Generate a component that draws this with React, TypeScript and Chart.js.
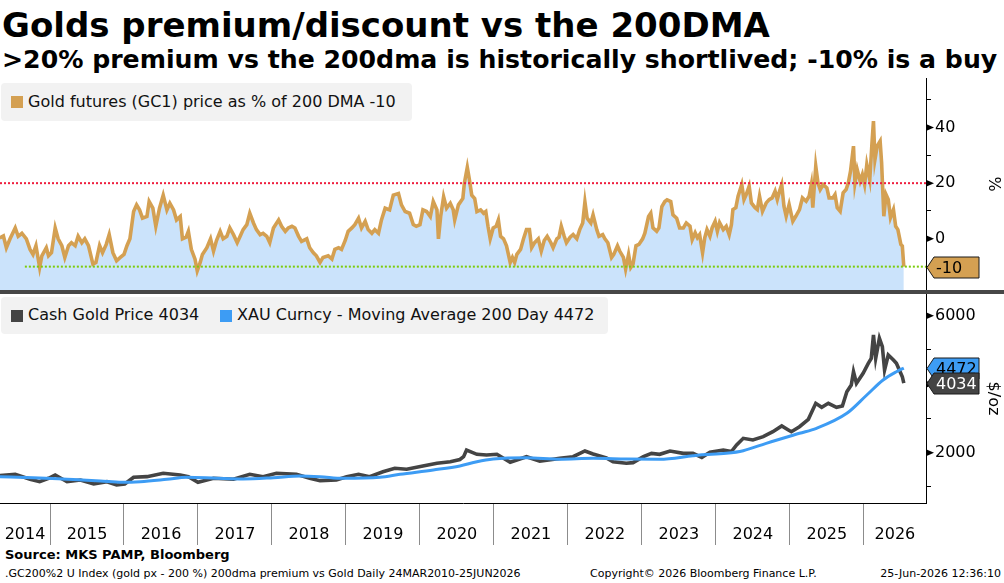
import { useEffect, useRef } from 'react';
import { Chart, registerables } from 'chart.js';

Chart.register(...registerables);

const FONT = '"DejaVu Sans", Verdana, sans-serif';
const GOLD = '#d4a052';
const FILL = '#cbe3fb';
const RED = '#ef1f3f';
const GREEN = '#7dcc0a';
const DARK = '#444444';
const BLUE = '#3d9cf4';

// visible date range, decimal years
const X_MIN = 2014.324;
const X_MAX = 2026.84;

const yearLabels = [2014, 2015, 2016, 2017, 2018, 2019, 2020, 2021, 2022, 2023, 2024, 2025, 2026];
const yearTicks = [2015, 2016, 2017, 2018, 2019, 2020, 2021, 2022, 2023, 2024, 2025, 2026];

// right-axis ticks; labels only on the major ones
const pctTicks = [-10, 0, 10, 20, 30, 40, 50];
const pctMajor = [0, 20, 40];
const priceTicks = [1000, 2000, 3000, 4000, 5000, 6000];
const priceMajor = [2000, 4000, 6000];

// GC1 price as % premium over its 200 DMA  [year, %]
const premiumPoints: [number, number][] = [
  [2014.32, 0.3], [2014.37, 1], [2014.41, -3.2], [2014.46, 0], [2014.53, 3.9], [2014.57, 0.9], [2014.62, 2],
  [2014.68, 0], [2014.73, -3.8], [2014.77, -5.6], [2014.81, -2.5], [2014.86, -10.3], [2014.89, -6.1], [2014.95, -3.2],
  [2014.98, -6.1], [2015.02, -5], [2015.07, 3.9], [2015.11, 0], [2015.16, -2.5], [2015.2, -6.7], [2015.25, -2.5],
  [2015.29, -1.4], [2015.34, -2.5], [2015.38, 0.9], [2015.43, -1.4], [2015.47, 0], [2015.52, -2.5], [2015.58, -9.1],
  [2015.62, -8.5], [2015.67, -2.4], [2015.71, -5], [2015.76, -2], [2015.8, 1.5], [2015.85, -5], [2015.9, -7.9],
  [2015.95, -6.7], [2016.0, -5.6], [2016.04, -2.5], [2016.08, 0], [2016.13, 9.8], [2016.17, 12.2], [2016.21, 10.4],
  [2016.25, 7.4], [2016.31, 8], [2016.34, 13.4], [2016.39, 11], [2016.43, 4.5], [2016.48, 11], [2016.53, 15.7],
  [2016.58, 10.4], [2016.62, 12.8], [2016.67, 10.4], [2016.71, 6.8], [2016.76, 8], [2016.79, 0], [2016.84, 0.6],
  [2016.87, 2.7], [2016.91, -3.8], [2016.96, -7.3], [2016.99, -11.5], [2017.03, -8.5], [2017.06, -5.6], [2017.12, -3.2],
  [2017.17, 0], [2017.21, -4.4], [2017.25, -0.6], [2017.3, 2.7], [2017.34, 0], [2017.39, 0.9],
  [2017.43, 3.9], [2017.48, 1.5], [2017.53, -1.4], [2017.57, 0.9], [2017.61, 3.3], [2017.66, 5.1], [2017.7, 9.2],
  [2017.75, 5.7], [2017.79, 3.3], [2017.84, 1.5], [2017.88, 2], [2017.93, 0.9], [2017.97, -1.4], [2018.02, 3.9],
  [2018.09, 6.8], [2018.13, 4.5], [2018.18, 2.7], [2018.22, 3.9], [2018.27, 4.5], [2018.31, 3.9], [2018.36, 0.9],
  [2018.4, -0.9], [2018.47, 0], [2018.51, -3.2], [2018.56, -5], [2018.6, -6.1], [2018.65, -8.5], [2018.69, -6.7],
  [2018.76, -6.1], [2018.81, -7.3], [2018.85, -3.8], [2018.9, -3.2], [2018.94, -3.8], [2018.99, -0.6], [2019.03, 2.7],
  [2019.08, 3.9], [2019.12, 5.1], [2019.17, 7.4], [2019.21, 3.9], [2019.26, 6.3], [2019.3, 3.3], [2019.35, 2],
  [2019.39, 3.3], [2019.44, 2], [2019.48, 6.8], [2019.53, 11], [2019.59, 10.4], [2019.64, 15.7], [2019.71, 16.3],
  [2019.75, 12.2], [2019.8, 9.8], [2019.86, 9.2], [2019.91, 5.1], [2019.95, 4.5], [2020.0, 5.1], [2020.04, 10.4],
  [2020.09, 9.8], [2020.14, 8], [2020.18, 13.4], [2020.23, 10.4], [2020.25, 0], [2020.28, 8], [2020.32, 15.1],
  [2020.36, 11], [2020.41, 12.8], [2020.45, 10.4], [2020.47, 6.8], [2020.52, 12.2],
  [2020.58, 14.5], [2020.6, 19.9], [2020.64, 25.7], [2020.67, 21], [2020.7, 15.7], [2020.74, 14.5], [2020.77, 9.8],
  [2020.82, 10.4], [2020.86, 9.2], [2020.89, 9.8], [2020.92, 4.5], [2020.95, 0], [2020.99, 3.9], [2021.03, 4.5],
  [2021.06, 6.8], [2021.09, 0.9], [2021.13, 0], [2021.17, -2.5], [2021.22, -8.5], [2021.25, -6.7], [2021.28, -8.5],
  [2021.31, -5.6], [2021.36, -3.8], [2021.4, 0], [2021.44, 3.3], [2021.48, 3.3], [2021.51, -3.2], [2021.55, -1.4],
  [2021.6, 0], [2021.64, -4.4], [2021.68, -0.6], [2021.72, 0.9], [2021.77, -1.4], [2021.8, -3.2], [2021.85, 0],
  [2021.88, 0.6], [2021.91, 4.5], [2021.95, 0.9], [2021.98, -1.4], [2022.03, 0.6], [2022.07, 1.5], [2022.12, 0],
  [2022.16, 3.3], [2022.2, 5.7], [2022.23, 13.3], [2022.26, 7.4], [2022.31, 5.7], [2022.34, 8.6], [2022.39, 3.3],
  [2022.42, 0.9], [2022.47, 1.5], [2022.5, 0], [2022.54, -1.4], [2022.59, -6.7], [2022.62, -5.6], [2022.67, -2.5],
  [2022.7, -4.4], [2022.75, -6.7], [2022.78, -10.9], [2022.82, -5.6], [2022.85, -10.3], [2022.88, -9.1], [2022.92, -2.5],
  [2022.96, -2], [2023.01, 0], [2023.04, 2], [2023.09, 8], [2023.12, 9.2], [2023.15, 3.9], [2023.2, 2.7],
  [2023.23, 3.9], [2023.27, 11.6], [2023.31, 13.4], [2023.34, 14], [2023.39, 13.4], [2023.42, 8.6], [2023.47, 7.4],
  [2023.51, 3.9], [2023.56, 3.9], [2023.6, 5.7],
  [2023.65, 4.5], [2023.68, -0.3], [2023.72, 2.2], [2023.75, 0.4], [2023.78, 1.5], [2023.82, -5], [2023.85, 0.4],
  [2023.88, 3.3], [2023.92, 0.9], [2023.95, 4], [2023.99, 6.3], [2024.02, 2.7], [2024.05, 5.8], [2024.1, 3.3],
  [2024.14, 4.5], [2024.18, 1.5], [2024.21, 5.1], [2024.23, 10.5], [2024.27, 11.2], [2024.3, 15.3], [2024.35, 19.5],
  [2024.38, 14.1], [2024.41, 15.9], [2024.45, 18.9], [2024.48, 12.9], [2024.53, 11.2], [2024.56, 10.5], [2024.59, 15.3],
  [2024.63, 9.9], [2024.68, 12.9], [2024.72, 14.1], [2024.76, 14.7], [2024.8, 17.1], [2024.83, 14.1], [2024.86, 17.1],
  [2024.89, 19.5], [2024.92, 11.7], [2024.95, 8.1], [2024.99, 12.3], [2025.04, 6.3], [2025.08, 8.1], [2025.13, 10.5],
  [2025.17, 14.7], [2025.22, 13.5], [2025.26, 15.3], [2025.29, 19.5], [2025.31, 11.2], [2025.35, 26.1], [2025.38, 20.1],
  [2025.41, 17.7], [2025.45, 19.5], [2025.5, 18.3], [2025.53, 14.7], [2025.58, 14.7], [2025.61, 15.9], [2025.64, 11.2],
  [2025.68, 9.9], [2025.72, 16.5], [2025.76, 17.7], [2025.79, 20.1], [2025.82, 24.3], [2025.86, 33.3], [2025.88, 20.1],
  [2025.91, 24.9], [2025.95, 20.7], [2025.98, 23.1], [2026.01, 19.5], [2026.04, 26.7], [2026.08, 21.3], [2026.11, 34.5],
  [2026.13, 42.3], [2026.15, 28.5], [2026.18, 33.3], [2026.22, 35.1], [2026.24, 27.3], [2026.27, 8.1], [2026.3, 15.9],
  [2026.33, 14.1], [2026.36, 7.6], [2026.4, 10.5], [2026.43, 4.5], [2026.46, 3.3], [2026.5, -2], [2026.52, -2.6],
  [2026.54, -10],
];

// reference levels on the premium panel
const richLevel = 20;
const buyLevel = -10;
const buyLineStart = 2014.66;

// cash gold price, $/oz
const goldPoints: [number, number][] = [
  [2014.32, 1329], [2014.53, 1369], [2014.73, 1223], [2014.86, 1153], [2014.98, 1253], [2015.07, 1349], [2015.23, 1153],
  [2015.41, 1203], [2015.59, 1086], [2015.77, 1153], [2015.9, 1057], [2016.01, 1086], [2016.13, 1282], [2016.31, 1300],
  [2016.53, 1399], [2016.76, 1349], [2016.87, 1300], [2017.0, 1136], [2017.21, 1253], [2017.48, 1223], [2017.7, 1369],
  [2017.88, 1300], [2018.06, 1399], [2018.33, 1369], [2018.51, 1253], [2018.65, 1183], [2018.87, 1203], [2019.01, 1300],
  [2019.17, 1369], [2019.32, 1300], [2019.5, 1445], [2019.66, 1544], [2019.82, 1515], [2020.04, 1612], [2020.23, 1690],
  [2020.41, 1737], [2020.54, 1800], [2020.59, 1883], [2020.63, 2079], [2020.77, 1953], [2020.9, 1934], [2021.04, 1953],
  [2021.22, 1720], [2021.44, 1883], [2021.62, 1750], [2021.89, 1835], [2022.07, 1883], [2022.23, 2050], [2022.34, 1962],
  [2022.52, 1850], [2022.61, 1737], [2022.79, 1690], [2022.88, 1710], [2023.02, 1883], [2023.13, 1981], [2023.24, 1953],
  [2023.38, 2050], [2023.56, 1981], [2023.69, 1981], [2023.81, 1864], [2023.92, 2011], [2024.1, 2079], [2024.21, 2031],
  [2024.28, 2225], [2024.37, 2420], [2024.5, 2372], [2024.64, 2467], [2024.77, 2613], [2024.89, 2780], [2024.98, 2663],
  [2025.02, 2613], [2025.13, 2759], [2025.25, 2975], [2025.35, 3442], [2025.43, 3326], [2025.52, 3442], [2025.63, 3326],
  [2025.71, 3364], [2025.77, 3781], [2025.83, 3977], [2025.86, 4365], [2025.9, 4026], [2025.99, 4318], [2026.06, 4610],
  [2026.1, 4756], [2026.13, 5436], [2026.16, 4756], [2026.21, 5340], [2026.25, 5095], [2026.28, 4415], [2026.33, 4853],
  [2026.4, 4707], [2026.44, 4610], [2026.49, 4365], [2026.52, 4219], [2026.54, 4034],
];

// XAU 200-day moving average, $/oz
const maPoints: [number, number][] = [
  [2014.32, 1300], [2014.77, 1270], [2015.23, 1223], [2015.68, 1174], [2015.97, 1136], [2016.22, 1153], [2016.58, 1223],
  [2016.85, 1282], [2017.25, 1253], [2017.61, 1232], [2018.02, 1270], [2018.38, 1320], [2018.65, 1300], [2018.96, 1253],
  [2019.46, 1282], [2019.73, 1369], [2020.18, 1495], [2020.54, 1612], [2020.77, 1737], [2020.99, 1816], [2021.44, 1854],
  [2021.89, 1807], [2022.34, 1835], [2022.79, 1816], [2023.24, 1807], [2023.69, 1912], [2023.78, 1933], [2024.14, 1981],
  [2024.37, 2058], [2024.68, 2274], [2025.13, 2566], [2025.36, 2712], [2025.77, 3150], [2026.04, 3685], [2026.26, 4123],
  [2026.44, 4365], [2026.54, 4472],
];

const toXY = (pts: [number, number][]) => pts.map(([x, y]) => ({ x, y }));
const fixedTicks = (values: number[]) => (s: any) => {
  s.ticks = values.map((value) => ({ value }));
};

const RIGHT_AXIS_W = 78;

const rightAxisDecor = {
  id: 'rightAxisDecor',
  afterDraw(chart: any, _args: any, opts: any) {
    const { ctx, chartArea } = chart;
    const ys = chart.scales.y;
    const right = chartArea.right;
    ctx.save();
    ctx.fillStyle = '#000';
    for (const v of opts.major) {
      const py = ys.getPixelForValue(v);
      ctx.beginPath();
      ctx.moveTo(right, py - 3.5);
      ctx.lineTo(right + 8, py);
      ctx.lineTo(right, py + 3.5);
      ctx.closePath();
      ctx.fill();
    }
    ctx.save();
    ctx.translate(right + 67, (chartArea.top + chartArea.bottom) / 2);
    ctx.rotate(Math.PI / 2);
    ctx.font = `16px ${FONT}`;
    ctx.textAlign = 'center';
    ctx.textBaseline = 'middle';
    ctx.fillText(opts.title, 0, 0);
    ctx.restore();

    ctx.font = `16px ${FONT}`;
    ctx.textAlign = 'left';
    ctx.textBaseline = 'middle';
    for (const b of opts.badges) {
      const data = chart.data.datasets[b.dataset].data;
      const v = data[data.length - 1].y;
      const py = Math.round(ys.getPixelForValue(v)) + 0.5;
      const h = 10.5;
      ctx.beginPath();
      ctx.moveTo(right + 1, py);
      ctx.lineTo(right + 8, py - h);
      ctx.lineTo(right + 53, py - h);
      ctx.lineTo(right + 53, py + h);
      ctx.lineTo(right + 8, py + h);
      ctx.closePath();
      ctx.fillStyle = b.fill;
      ctx.fill();
      ctx.strokeStyle = '#1a1a1a';
      ctx.lineWidth = 1;
      ctx.stroke();
      ctx.fillStyle = b.text;
      ctx.fillText(String(Math.round(v)), right + 10, py + 1);
    }
    ctx.restore();
  },
};

const yearAxisLabels = {
  id: 'yearAxisLabels',
  afterDraw(chart: any) {
    const xs = chart.scales.x;
    const { ctx, chartArea } = chart;
    ctx.save();
    ctx.font = `16px ${FONT}`;
    ctx.fillStyle = '#000';
    ctx.textAlign = 'center';
    ctx.textBaseline = 'middle';
    for (const yr of yearLabels) {
      const a = Math.max(yr, xs.min);
      const b = Math.min(yr + 1, xs.max);
      if (b <= a) continue;
      ctx.fillText(String(yr), xs.getPixelForValue((a + b) / 2), chartArea.bottom + 32);
    }
    ctx.restore();
  },
};

const yAxis = (min: number, max: number, ticks: number[], major: number[]) => ({
  position: 'right' as const,
  min,
  max,
  afterBuildTicks: fixedTicks(ticks),
  afterFit: (s: any) => {
    s.width = RIGHT_AXIS_W;
    s.paddingTop = 0;
    s.paddingBottom = 0;
  },
  border: { color: '#000', width: 1 },
  grid: { drawOnChartArea: false, tickLength: 5, color: '#000' },
  ticks: {
    autoSkip: false,
    padding: 4,
    color: '#000',
    font: { family: FONT, size: 16 },
    callback: (v: any) => (major.includes(v) ? String(v) : ''),
  },
});

export default function App() {
  const topRef = useRef<HTMLCanvasElement | null>(null);
  const botRef = useRef<HTMLCanvasElement | null>(null);

  useEffect(() => {
    const top = new Chart(topRef.current as HTMLCanvasElement, {
      type: 'line',
      data: {
        datasets: [
          {
            data: toXY(premiumPoints),
            borderColor: GOLD,
            borderWidth: 3.6,
            pointRadius: 0,
            fill: 'start',
            backgroundColor: FILL,
            order: 2,
          },
          {
            data: toXY([[X_MIN, richLevel], [X_MAX, richLevel]]),
            borderColor: RED,
            borderWidth: 2,
            borderDash: [2, 2],
            pointRadius: 0,
            fill: false,
            order: 1,
          },
          {
            data: toXY([[buyLineStart, buyLevel], [X_MAX, buyLevel]]),
            borderColor: GREEN,
            borderWidth: 2,
            borderDash: [2, 2],
            pointRadius: 0,
            fill: false,
            order: 1,
          },
        ],
      },
      options: {
        animation: false,
        responsive: false,
        layout: { padding: 0 },
        plugins: {
          legend: { display: false },
          tooltip: { enabled: false },
          rightAxisDecor: { major: pctMajor, title: '%', badges: [{ dataset: 0, fill: GOLD, text: '#000' }] },
        } as any,
        scales: {
          x: { type: 'linear', min: X_MIN, max: X_MAX, display: false },
          y: yAxis(-18.4, 57.8, pctTicks, pctMajor) as any,
        },
      },
      plugins: [rightAxisDecor],
    });

    const bottom = new Chart(botRef.current as HTMLCanvasElement, {
      type: 'line',
      data: {
        datasets: [
          {
            data: toXY(goldPoints),
            borderColor: DARK,
            borderWidth: 3.6,
            pointRadius: 0,
            order: 2,
          },
          {
            data: toXY(maPoints),
            borderColor: BLUE,
            borderWidth: 3,
            pointRadius: 0,
            cubicInterpolationMode: 'monotone',
            order: 1,
          },
        ],
      },
      options: {
        animation: false,
        responsive: false,
        layout: { padding: 0 },
        plugins: {
          legend: { display: false },
          tooltip: { enabled: false },
          rightAxisDecor: {
            major: priceMajor,
            title: '$/oz',
            badges: [
              { dataset: 1, fill: BLUE, text: '#000' },
              { dataset: 0, fill: DARK, text: '#fff' },
            ],
          },
        } as any,
        scales: {
          x: {
            type: 'linear',
            min: X_MIN,
            max: X_MAX,
            afterBuildTicks: fixedTicks(yearTicks),
            afterFit: (s: any) => {
              s.height = 43;
            },
            border: { color: '#000', width: 1 },
            grid: { drawOnChartArea: false, tickLength: 42, color: '#8c8c8c' },
            ticks: { display: false, autoSkip: false },
          } as any,
          y: yAxis(531, 6634, priceTicks, priceMajor) as any,
        },
      },
      plugins: [rightAxisDecor, yearAxisLabels],
    });

    return () => {
      top.destroy();
      bottom.destroy();
    };
  }, []);

  const legendBox: React.CSSProperties = {
    position: 'absolute',
    left: 1,
    background: '#f2f2f2',
    borderRadius: 4,
    fontSize: 16,
    color: '#111',
    zIndex: 2,
  };
  const sq = (c: string): React.CSSProperties => ({
    position: 'absolute',
    width: 12,
    height: 12,
    background: c,
    top: '50%',
    marginTop: -6,
  });

  return (
    <div
      style={{
        position: 'fixed',
        left: 0,
        top: 0,
        width: 1004,
        height: 583,
        background: '#fff',
        overflow: 'hidden',
        fontFamily: FONT,
        color: '#000',
      }}
    >
      <div style={{ position: 'absolute', left: 2, top: 5, fontSize: 34, fontWeight: 'bold', lineHeight: '40px', whiteSpace: 'nowrap' }}>
        Golds premium/discount vs the 200DMA
      </div>
      <div style={{ position: 'absolute', left: 2, top: 45, fontSize: 25.2, fontWeight: 'bold', lineHeight: '30px', whiteSpace: 'nowrap' }}>
        &gt;20% premium vs the 200dma is historically shortlived; -10% is a buy
      </div>

      <canvas ref={topRef} width={1004} height={212} style={{ position: 'absolute', left: 0, top: 78 }} />
      <div style={{ position: 'absolute', left: 0, top: 290, width: 1004, height: 4, background: '#474747' }} />
      <canvas ref={botRef} width={1004} height={252} style={{ position: 'absolute', left: 0, top: 294 }} />

      <div style={{ ...legendBox, top: 83, width: 411, height: 38 }}>
        <span style={{ ...sq(GOLD), left: 10 }} />
        <span style={{ position: 'absolute', left: 27, top: 9, whiteSpace: 'nowrap' }}>Gold futures (GC1) price as % of 200 DMA -10</span>
      </div>
      <div style={{ ...legendBox, top: 297, width: 607, height: 37 }}>
        <span style={{ ...sq(DARK), left: 10 }} />
        <span style={{ position: 'absolute', left: 27, top: 8, whiteSpace: 'nowrap' }}>Cash Gold Price 4034</span>
        <span style={{ ...sq(BLUE), left: 219 }} />
        <span style={{ position: 'absolute', left: 236, top: 8, whiteSpace: 'nowrap' }}>XAU Curncy - Moving Average 200 Day 4472</span>
      </div>

      <div style={{ position: 'absolute', left: 5, top: 547, fontSize: 13, fontWeight: 'bold', whiteSpace: 'nowrap' }}>
        Source: MKS PAMP, Bloomberg
      </div>
      <div style={{ position: 'absolute', left: 5, top: 567, fontSize: 11, whiteSpace: 'nowrap' }}>
        .GC200%2 U Index (gold px - 200 %) 200dma premium vs Gold Daily 24MAR2010-25JUN2026
      </div>
      <div style={{ position: 'absolute', left: 590, top: 567, fontSize: 11, whiteSpace: 'nowrap' }}>
        Copyright© 2026 Bloomberg Finance L.P.
      </div>
      <div style={{ position: 'absolute', right: 3, top: 567, fontSize: 11, whiteSpace: 'nowrap' }}>
        25-Jun-2026 12:36:10
      </div>
    </div>
  );
}
